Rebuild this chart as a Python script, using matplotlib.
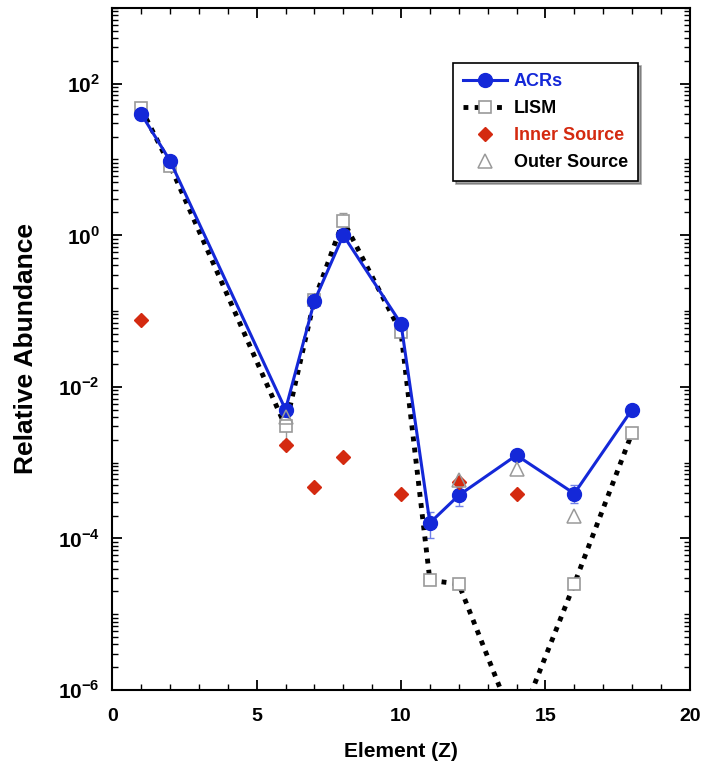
import matplotlib.pyplot as plt
from matplotlib.ticker import LogLocator, MultipleLocator, NullFormatter

plt.rcParams['font.family'] = ['Liberation Sans', 'DejaVu Sans']
plt.rcParams['font.weight'] = 'bold'
plt.rcParams['mathtext.fontset'] = 'custom'
plt.rcParams['mathtext.rm'] = 'Liberation Sans:bold'
plt.rcParams['mathtext.bf'] = 'Liberation Sans:bold'

# ACRs
acr_z = [1, 2, 6, 7, 8, 10, 11, 12, 14, 16, 18]
acr_val = [40, 9.6, 5.0e-3, 0.135, 1.0, 0.068, 1.6e-4, 3.7e-4, 1.25e-3, 3.9e-4, 5.0e-3]
acr_err_lo = [0, 0, 0, 0, 0, 0, 0.6e-4, 1.0e-4, 0, 1.0e-4, 0]
acr_err_hi = [0, 0, 0, 0, 0, 0, 0.6e-4, 0.4e-4, 0, 1.2e-4, 0]

# LISM
lism_z = [1, 2, 6, 7, 8, 10, 11, 12, 14, 16, 18]
lism_val = [47, 8.3, 3.0e-3, 0.14, 1.55, 0.052, 2.8e-5, 2.5e-5, 3e-7, 2.5e-5, 2.45e-3]
lism_err_lo = [0, 0, 1.1e-3, 0, 0, 0, 0, 0, 0, 0, 0]
lism_err_hi = [0, 0, 0, 0, 0.4, 0, 0, 0, 0, 0, 0]

# Inner source
inner_z = [1, 6, 7, 8, 10, 12, 14]
inner_val = [0.076, 1.7e-3, 4.8e-4, 1.2e-3, 3.9e-4, 5.6e-4, 3.8e-4]

# Outer source
outer_z = [6, 12, 14, 16]
outer_val = [4.0e-3, 5.9e-4, 8.3e-4, 2.0e-4]

ytick_vals = [1e-6, 1e-4, 1e-2, 1e0, 1e2]
ytick_labels = ['$10^{-6}$', '$10^{-4}$', '$10^{-2}$', '$10^{0}$', '$10^{2}$']

blue = '#1428d8'
red = '#d42a10'
gray = '#9a9a9a'

fig = plt.figure(figsize=(7.06, 7.77), dpi=100)
ax = fig.add_axes([0.159, 0.112, 0.818, 0.878])

ax.errorbar(lism_z, lism_val, yerr=[lism_err_lo, lism_err_hi], fmt='none',
            ecolor=gray, elinewidth=1, capsize=3, zorder=2)
ax.errorbar(acr_z, acr_val, yerr=[acr_err_lo, acr_err_hi], fmt='none',
            ecolor='#7080e8', elinewidth=1, capsize=3, zorder=2)

ax.plot(lism_z, lism_val, color='black', linestyle=(0, (1, 1.3)), linewidth=3.5,
        marker='s', markersize=9, markerfacecolor='white', markeredgecolor=gray,
        markeredgewidth=1.2, label='LISM', zorder=3)
ax.plot(acr_z, acr_val, color=blue, linewidth=2.2, marker='o', markersize=10,
        markerfacecolor=blue, markeredgecolor=blue, label='ACRs', zorder=4)
ax.plot(inner_z, inner_val, linestyle='none', marker='D', markersize=7,
        color=red, label='Inner Source', zorder=5)
ax.plot(outer_z, outer_val, linestyle='none', marker='^', markersize=10,
        markerfacecolor='none', markeredgecolor=gray, markeredgewidth=1.1,
        label='Outer Source', zorder=5)

ax.set_yscale('log')
ax.set_xlim(0, 20)
ax.set_ylim(1e-6, 1e3)
ax.xaxis.set_major_locator(MultipleLocator(5))
ax.xaxis.set_minor_locator(MultipleLocator(1))
ax.yaxis.set_minor_locator(LogLocator(base=10, subs=range(1, 10), numticks=20))
ax.yaxis.set_minor_formatter(NullFormatter())
ax.set_yticks(ytick_vals)
ax.set_yticklabels(ytick_labels)
ax.tick_params(which='both', direction='in', top=True, right=True, labelsize=14)
ax.tick_params(axis='x', pad=13)
ax.tick_params(axis='y', pad=9, labelsize=15)
ax.tick_params(which='major', length=7, width=1.3)
ax.tick_params(which='minor', length=4, width=1)
for s in ax.spines.values():
    s.set_linewidth(1.5)

ax.set_xlabel('Element (Z)', fontsize=15, fontweight='bold', labelpad=12)
ax.set_ylabel('Relative Abundance', fontsize=19, fontweight='bold', labelpad=14)

handles, labels = ax.get_legend_handles_labels()
order = [1, 0, 2, 3]
leg = ax.legend([handles[i] for i in order], [labels[i] for i in order],
                loc='upper left', bbox_to_anchor=(0.575, 0.932), frameon=True,
                fancybox=False, shadow=True, edgecolor='black',
                handlelength=2.4, handletextpad=0.4, borderpad=0.55,
                labelspacing=0.55, prop={'weight': 'bold', 'size': 13})
leg.get_frame().set_linewidth(1.2)
for txt, c in zip(leg.get_texts(), [blue, 'black', red, 'black']):
    txt.set_color(c)

fig.savefig('out.png', dpi=100)
